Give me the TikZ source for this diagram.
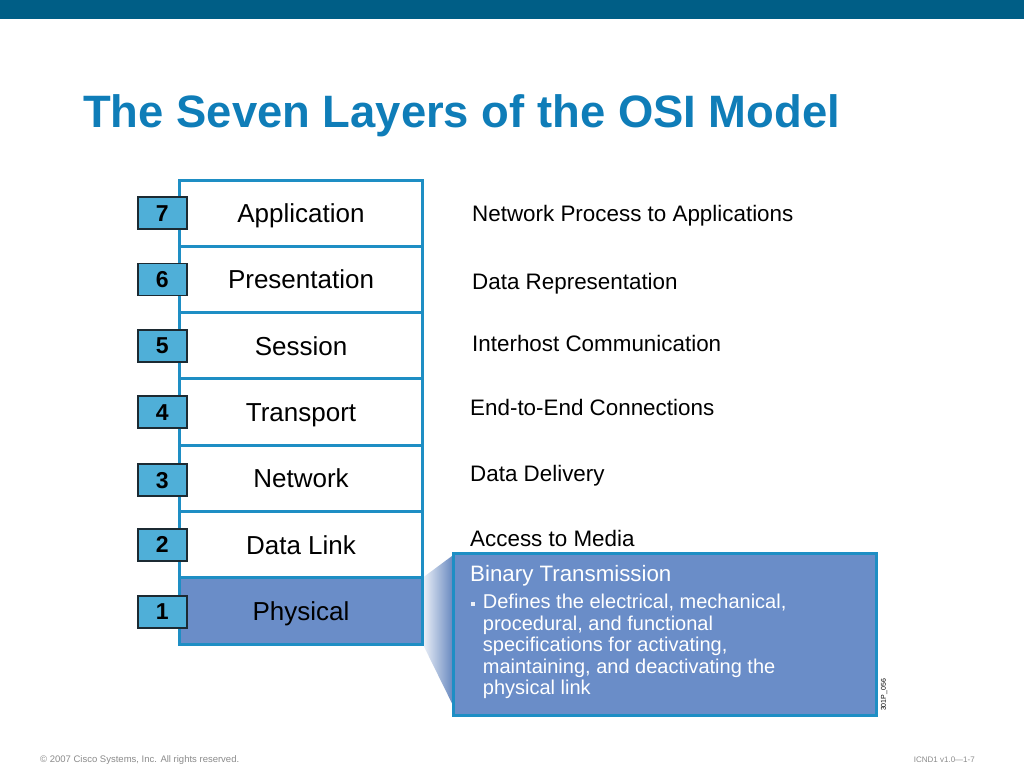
\documentclass[tikz,border=0pt]{standalone}
\usepackage{fontspec}
\setmainfont{Liberation Sans}
\usepackage{tikz}
\usetikzlibrary{positioning}
\definecolor{CiscoBar}{HTML}{005E86}
\definecolor{TitleBlue}{HTML}{0F7DB8}
\definecolor{StackBlue}{HTML}{1E8EC4}
\definecolor{NumBlue}{HTML}{4FAFD8}
\definecolor{NumEdge}{HTML}{1C2A32}
\definecolor{PhysBlue}{HTML}{6A8DC8}
\definecolor{FootGray}{HTML}{8A8A8A}

\begin{document}
\begin{tikzpicture}[x=1pt,y=-1pt,node distance=0pt]
\tikzstyle{layer}=[rectangle,draw=StackBlue,line width=3pt,fill=white,minimum width=243.4pt,minimum height=66.3pt,outer sep=0pt,inner sep=0pt,text height=19pt,text depth=0pt,font=\fontsize{26}{30}\selectfont]
\tikzstyle{numbox}=[rectangle,draw=NumEdge,line width=1.8pt,fill=NumBlue,minimum width=49pt,minimum height=32pt,inner sep=0pt,text height=16pt,text depth=0pt,font=\bfseries\fontsize{23}{26}\selectfont]
\tikzstyle{desc}=[anchor=base west,inner sep=0pt,font=\fontsize{22.4}{26}\selectfont]
\useasboundingbox (0,0) rectangle (1024,768);
\fill[CiscoBar] (0,0) rectangle (1024,19);
\node[anchor=base west,inner sep=0pt,text=TitleBlue,font=\bfseries\fontsize{45.4}{50}\selectfont] (title) at (83,127.5) {The Seven Layers of the OSI Model};
% shadow from the physical layer to the callout
\shade[left color=PhysBlue!12!white,right color=PhysBlue!95!black] (422.7,577.7) -- (453.3,555) -- (453.3,706) -- (422.7,644) -- cycle;
% the stack
\node[layer] (l7) at (301,213.15) {Application};
\node[layer,below=of l7] (l6) {Presentation};
\node[layer,below=of l6] (l5) {Session};
\node[layer,below=of l5] (l4) {Transport};
\node[layer,below=of l4] (l3) {Network};
\node[layer,below=of l3] (l2) {Data Link};
\node[layer,below=of l2,fill=PhysBlue] (l1) {Physical};
\node[numbox,xshift=-17pt] (n7) at (l7.west) {7};
\node[numbox,xshift=-17pt] (n6) at (l6.west) {6};
\node[numbox,xshift=-17pt] (n5) at (l5.west) {5};
\node[numbox,xshift=-17pt] (n4) at (l4.west) {4};
\node[numbox,xshift=-17pt,yshift=-2pt] (n3) at (l3.west) {3};
\node[numbox,xshift=-17pt] (n2) at (l2.west) {2};
\node[numbox,xshift=-17pt,yshift=-1pt] (n1) at (l1.west) {1};
% what each layer does
\node[desc] (d7) at (472,221.7) {Network Process to Applications};
\node[desc] (d6) at (472,289) {Data Representation};
\node[desc] (d5) at (472,351) {Interhost Communication};
\node[desc] (d4) at (470,415) {End-to-End Connections};
\node[desc] (d3) at (470,481.5) {Data Delivery};
\node[desc] (d2) at (470,546.5) {Access to Media};
% callout
\node[rectangle,draw=StackBlue,line width=3pt,fill=PhysBlue,minimum width=423.4pt,minimum height=161.7pt] (bt) at (665,634.2) {};
\node[anchor=base west,inner sep=0pt,text=white,font=\fontsize{22.3}{26}\selectfont] (bth) at (470,581.7) {Binary Transmission};
\fill[white!88!PhysBlue] (470.5,601.5) rectangle (475,606);
\node[anchor=north west,inner sep=0pt,align=left,text=white,font=\fontsize{20}{21.5}\selectfont] (btx) at (482.7,594.2) {Defines the electrical, mechanical,\\procedural, and functional\\specifications for activating,\\maintaining, and deactivating the\\physical link};
\node[rotate=90,inner sep=0pt,font=\fontsize{7}{8}\selectfont] (ref) at (884,695) {301P\_056};
% footer
\node[anchor=base west,inner sep=0pt,text=FootGray,font=\fontsize{9.5}{11}\selectfont] (copy) at (40,762) {\textcopyright{} 2007 Cisco Systems, Inc. All rights reserved.};
\node[anchor=base east,inner sep=0pt,text=FootGray,font=\fontsize{8}{10}\selectfont] (code) at (975,762) {ICND1 v1.0---1-7};
\end{tikzpicture}
\end{document}
